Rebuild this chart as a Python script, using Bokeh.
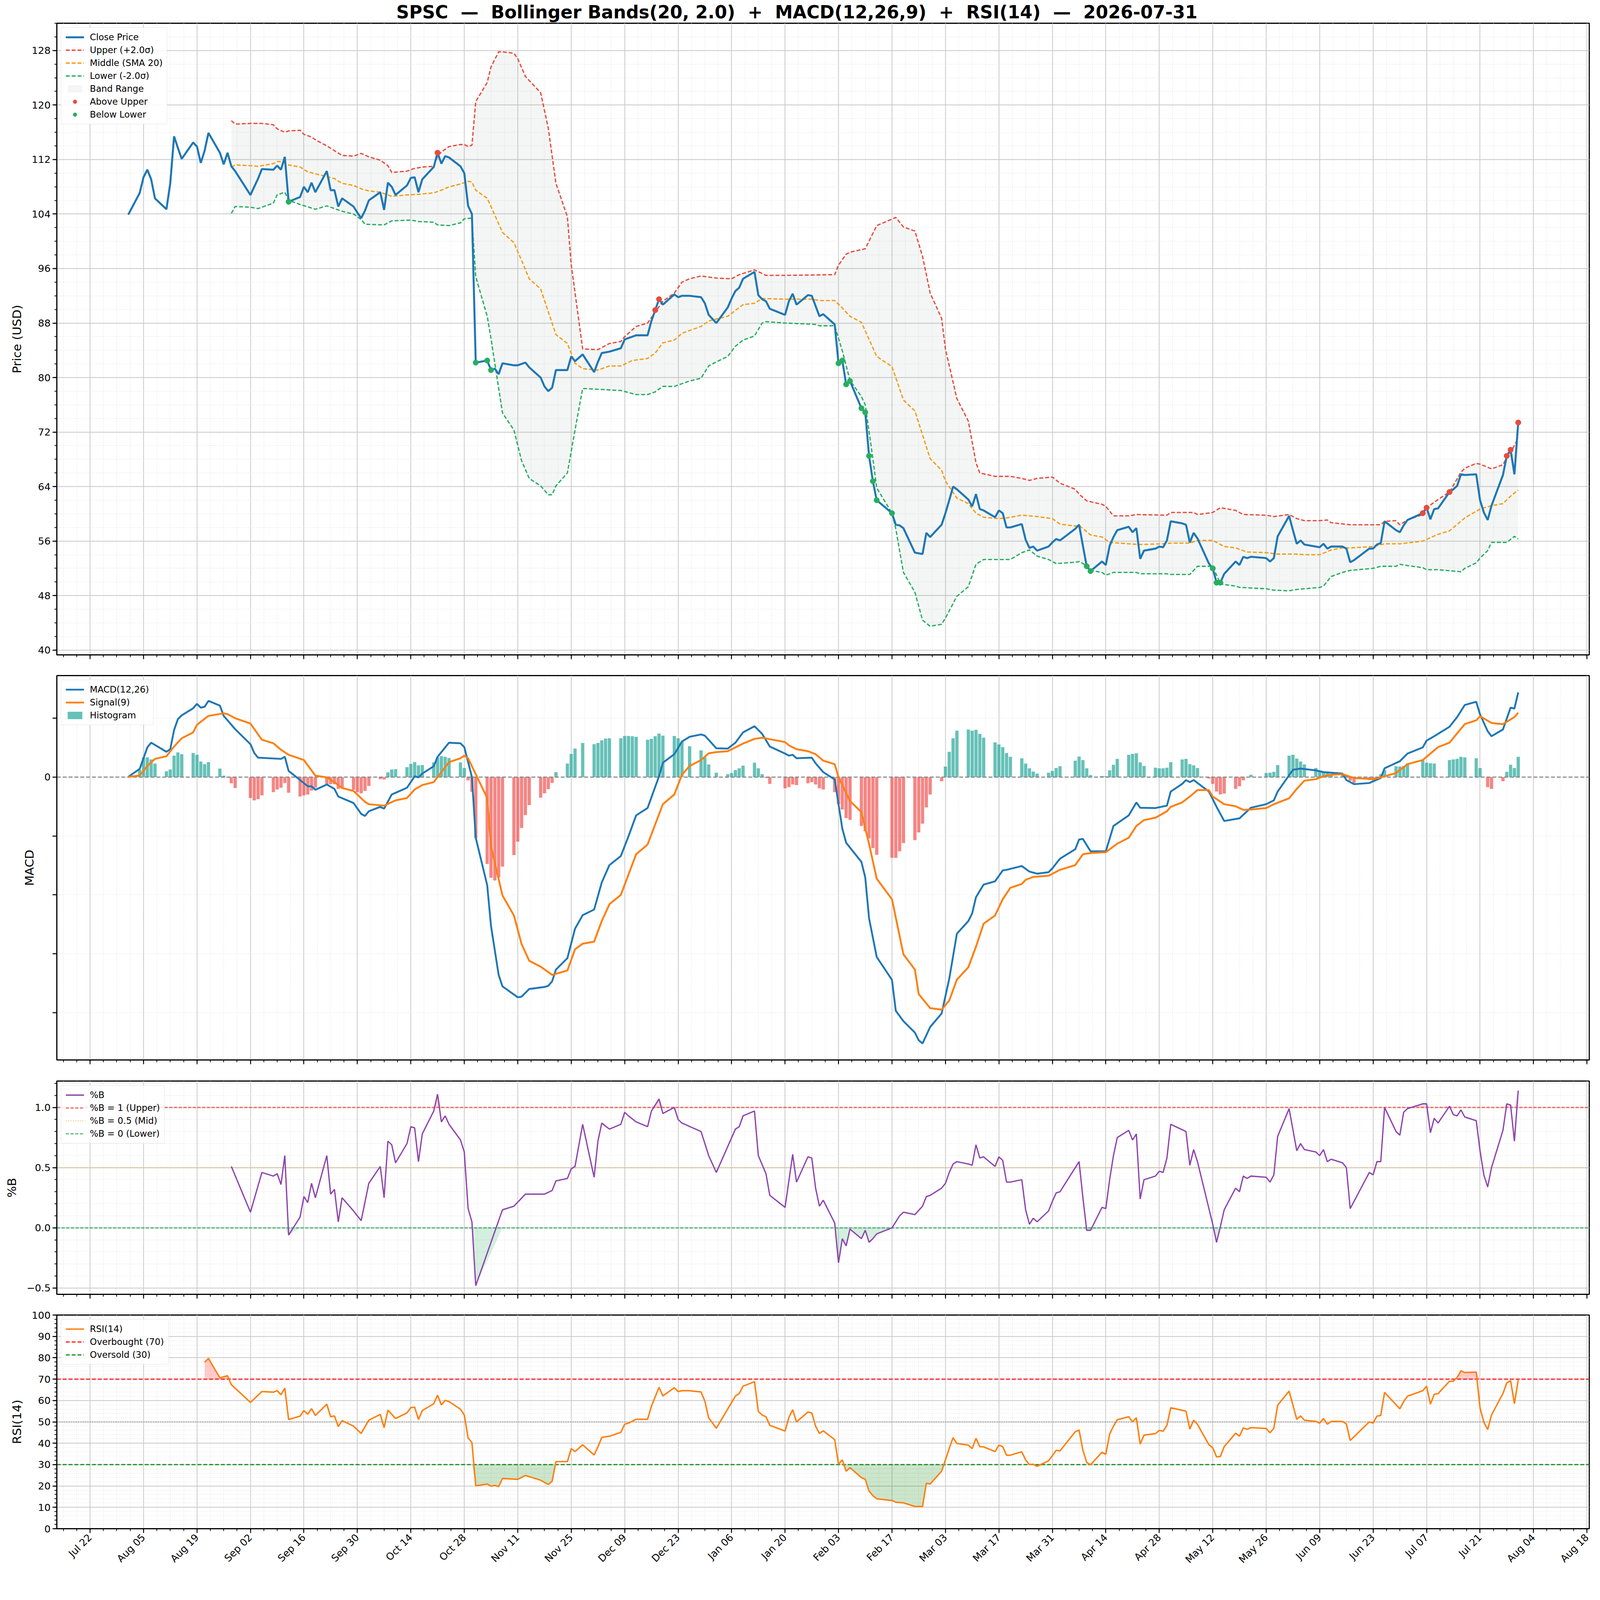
import math
from datetime import datetime, timedelta

import numpy as np
import pandas as pd
from bokeh.embed import file_html
from bokeh.layouts import column
from bokeh.models import (CustomJSTickFormatter, DatetimeTickFormatter, FixedTicker, Legend,
                          LegendItem, Range1d, SingleIntervalTicker)
from bokeh.plotting import figure
from bokeh.resources import INLINE

# ---------------- data ----------------
close_dates = ["2025-08-01", "2025-08-04", "2025-08-05", "2025-08-06", "2025-08-07", "2025-08-08",
               "2025-08-11", "2025-08-12", "2025-08-13", "2025-08-14", "2025-08-15", "2025-08-18",
               "2025-08-19", "2025-08-20", "2025-08-21", "2025-08-22", "2025-08-25", "2025-08-26",
               "2025-08-27", "2025-08-28", "2025-08-29", "2025-09-02", "2025-09-03", "2025-09-04",
               "2025-09-05", "2025-09-08", "2025-09-09", "2025-09-10", "2025-09-11", "2025-09-12",
               "2025-09-15", "2025-09-16", "2025-09-17", "2025-09-18", "2025-09-19", "2025-09-22",
               "2025-09-23", "2025-09-24", "2025-09-25", "2025-09-26", "2025-09-29", "2025-09-30",
               "2025-10-01", "2025-10-02", "2025-10-03", "2025-10-06", "2025-10-07", "2025-10-08",
               "2025-10-09", "2025-10-10", "2025-10-13", "2025-10-14", "2025-10-15", "2025-10-16",
               "2025-10-17", "2025-10-20", "2025-10-21", "2025-10-22", "2025-10-23", "2025-10-24",
               "2025-10-27", "2025-10-28", "2025-10-29", "2025-10-30", "2025-10-31", "2025-11-03",
               "2025-11-04", "2025-11-05", "2025-11-06", "2025-11-07", "2025-11-10", "2025-11-11",
               "2025-11-12", "2025-11-13", "2025-11-14", "2025-11-17", "2025-11-18", "2025-11-19",
               "2025-11-20", "2025-11-21", "2025-11-24", "2025-11-25", "2025-11-26", "2025-11-28",
               "2025-12-01", "2025-12-02", "2025-12-03", "2025-12-04", "2025-12-05", "2025-12-08",
               "2025-12-09", "2025-12-10", "2025-12-11", "2025-12-12", "2025-12-15", "2025-12-16",
               "2025-12-17", "2025-12-18", "2025-12-19", "2025-12-22", "2025-12-23", "2025-12-24",
               "2025-12-26", "2025-12-29", "2025-12-30", "2025-12-31", "2026-01-02", "2026-01-05",
               "2026-01-06", "2026-01-07", "2026-01-08", "2026-01-09", "2026-01-12", "2026-01-13",
               "2026-01-14", "2026-01-15", "2026-01-16", "2026-01-20", "2026-01-21", "2026-01-22",
               "2026-01-23", "2026-01-26", "2026-01-27", "2026-01-28", "2026-01-29", "2026-01-30",
               "2026-02-02", "2026-02-03", "2026-02-04", "2026-02-05", "2026-02-06", "2026-02-09",
               "2026-02-10", "2026-02-11", "2026-02-12", "2026-02-13", "2026-02-17", "2026-02-18",
               "2026-02-19", "2026-02-20", "2026-02-23", "2026-02-24", "2026-02-25", "2026-02-26",
               "2026-02-27", "2026-03-02", "2026-03-03", "2026-03-04", "2026-03-05", "2026-03-06",
               "2026-03-09", "2026-03-10", "2026-03-11", "2026-03-12", "2026-03-13", "2026-03-16",
               "2026-03-17", "2026-03-18", "2026-03-19", "2026-03-20", "2026-03-23", "2026-03-24",
               "2026-03-25", "2026-03-26", "2026-03-27", "2026-03-30", "2026-03-31", "2026-04-01",
               "2026-04-02", "2026-04-06", "2026-04-07", "2026-04-08", "2026-04-09", "2026-04-10",
               "2026-04-13", "2026-04-14", "2026-04-15", "2026-04-16", "2026-04-17", "2026-04-20",
               "2026-04-21", "2026-04-22", "2026-04-23", "2026-04-24", "2026-04-27", "2026-04-28",
               "2026-04-29", "2026-04-30", "2026-05-01", "2026-05-04", "2026-05-05", "2026-05-06",
               "2026-05-07", "2026-05-08", "2026-05-11", "2026-05-12", "2026-05-13", "2026-05-14",
               "2026-05-15", "2026-05-18", "2026-05-19", "2026-05-20", "2026-05-21", "2026-05-22",
               "2026-05-26", "2026-05-27", "2026-05-28", "2026-05-29", "2026-06-01", "2026-06-02",
               "2026-06-03", "2026-06-04", "2026-06-05", "2026-06-08", "2026-06-09", "2026-06-10",
               "2026-06-11", "2026-06-12", "2026-06-15", "2026-06-16", "2026-06-17", "2026-06-18",
               "2026-06-22", "2026-06-23", "2026-06-24", "2026-06-25", "2026-06-26", "2026-06-29",
               "2026-06-30", "2026-07-01", "2026-07-02", "2026-07-06", "2026-07-07", "2026-07-08",
               "2026-07-09", "2026-07-10", "2026-07-13", "2026-07-14", "2026-07-15", "2026-07-16",
               "2026-07-17", "2026-07-20", "2026-07-21", "2026-07-22", "2026-07-23", "2026-07-24",
               "2026-07-27", "2026-07-28", "2026-07-29", "2026-07-30", "2026-07-31"]
close = [103.9, 107.1, 109.4, 110.5, 109.1, 106.3, 104.7, 108.5, 115.4, 113.7, 112.1, 114.5,
         113.9, 111.5, 113.3, 115.9, 113.0, 111.3, 113.0, 111.0, 110.3, 106.8, 108.0, 109.2,
         110.6, 110.5, 111.1, 110.5, 112.4, 105.8, 106.5, 108.0, 107.2, 108.6, 107.2, 110.3,
         107.5, 107.5, 105.1, 106.3, 105.1, 104.2, 103.4, 104.5, 106.0, 107.2, 104.6, 108.6,
         108.0, 106.8, 108.2, 109.3, 109.4, 107.2, 109.1, 110.9, 113.0, 111.4, 112.5, 112.3,
         111.0, 110.0, 105.2, 104.0, 82.2, 82.5, 81.1, 81.3, 80.5, 82.1, 81.8, 81.8,
         82.0, 82.2, 81.5, 80.0, 78.7, 78.0, 78.5, 81.1, 81.1, 83.1, 82.4, 83.4,
         80.8, 82.3, 83.6, 83.7, 83.8, 84.3, 85.6, 85.8, 86.0, 86.2, 86.2, 88.3,
         89.9, 91.5, 90.7, 92.2, 91.8, 92.0, 92.0, 91.8, 90.9, 89.2, 88.0, 90.3,
         91.6, 92.7, 93.2, 94.5, 95.5, 92.1, 91.5, 91.2, 90.1, 89.2, 91.2, 92.3,
         90.7, 92.1, 92.0, 90.5, 89.0, 89.3, 87.8, 82.1, 82.5, 79.0, 79.5, 75.5,
         74.9, 68.5, 64.8, 62.0, 60.1, 58.4, 58.3, 57.9, 54.3, 54.2, 54.1, 57.2,
         56.6, 58.4, 60.1, 62.0, 64.0, 63.6, 62.1, 61.1, 62.9, 60.7, 60.5, 59.5,
         60.5, 60.1, 58.0, 58.0, 58.5, 56.2, 55.0, 55.2, 54.6, 55.2, 55.8, 56.3,
         56.1, 57.8, 58.4, 55.3, 52.3, 51.6, 53.0, 52.5, 55.3, 56.6, 57.6, 58.1,
         57.3, 57.9, 53.4, 54.6, 54.9, 55.2, 55.1, 56.1, 58.9, 58.6, 58.4, 55.8,
         57.2, 56.4, 52.7, 52.0, 49.9, 49.9, 51.2, 53.0, 52.5, 53.7, 53.5, 53.7,
         53.5, 53.0, 53.5, 56.7, 59.7, 57.6, 55.6, 56.1, 55.5, 55.2, 55.1, 55.6,
         54.9, 55.2, 55.2, 54.9, 52.9, 53.2, 54.9, 54.9, 55.5, 55.7, 58.9, 57.6,
         57.3, 58.3, 59.1, 60.1, 60.9, 59.2, 60.7, 60.8, 63.2, 63.6, 64.1, 65.8,
         65.7, 65.8, 62.0, 60.2, 59.1, 61.2, 65.7, 68.5, 69.4, 65.8, 73.4]

upper_dates = ["2025-08-28", "2025-08-29", "2025-09-02", "2025-09-05", "2025-09-08", "2025-09-09",
               "2025-09-11", "2025-09-12", "2025-09-15", "2025-09-16", "2025-09-18", "2025-09-19",
               "2025-09-22", "2025-09-24", "2025-09-26", "2025-09-29", "2025-10-01", "2025-10-03",
               "2025-10-06", "2025-10-08", "2025-10-09", "2025-10-13", "2025-10-15", "2025-10-17",
               "2025-10-20", "2025-10-21", "2025-10-22", "2025-10-24", "2025-10-27", "2025-10-28",
               "2025-10-29", "2025-10-30", "2025-10-31", "2025-11-03", "2025-11-04", "2025-11-06",
               "2025-11-07", "2025-11-10", "2025-11-11", "2025-11-13", "2025-11-14", "2025-11-17",
               "2025-11-19", "2025-11-21", "2025-11-24", "2025-11-25", "2025-11-28", "2025-12-02",
               "2025-12-05", "2025-12-08", "2025-12-09", "2025-12-12", "2025-12-15", "2025-12-17",
               "2025-12-19", "2025-12-22", "2025-12-24", "2025-12-26", "2025-12-29", "2026-01-02",
               "2026-01-06", "2026-01-08", "2026-01-12", "2026-01-15", "2026-01-20", "2026-02-02",
               "2026-02-03", "2026-02-05", "2026-02-06", "2026-02-10", "2026-02-13", "2026-02-18",
               "2026-02-20", "2026-02-23", "2026-02-25", "2026-02-27", "2026-03-02", "2026-03-03",
               "2026-03-06", "2026-03-09", "2026-03-11", "2026-03-12", "2026-03-16", "2026-03-20",
               "2026-03-23", "2026-03-25", "2026-03-27", "2026-03-31", "2026-04-02", "2026-04-06",
               "2026-04-07", "2026-04-09", "2026-04-13", "2026-04-14", "2026-04-16", "2026-04-20",
               "2026-04-22", "2026-04-30", "2026-05-01", "2026-05-07", "2026-05-08", "2026-05-12",
               "2026-05-14", "2026-05-18", "2026-05-20", "2026-05-26", "2026-05-28", "2026-06-01",
               "2026-06-03", "2026-06-05", "2026-06-09", "2026-06-11", "2026-06-12", "2026-06-17",
               "2026-06-25", "2026-06-26", "2026-06-29", "2026-06-30", "2026-07-02", "2026-07-06",
               "2026-07-07", "2026-07-10", "2026-07-13", "2026-07-16", "2026-07-17", "2026-07-20",
               "2026-07-21", "2026-07-24", "2026-07-27", "2026-07-28", "2026-07-29", "2026-07-31"]
upper = [117.7, 117.2, 117.3, 117.3, 117.1, 116.5, 116.0, 116.2, 116.3, 115.7, 115.3, 114.9,
         114.0, 113.3, 112.6, 112.5, 112.9, 112.4, 111.9, 111.1, 110.1, 110.3, 110.7, 110.9,
         111.0, 112.5, 113.1, 113.9, 114.2, 114.2, 113.9, 114.1, 120.5, 123.3, 125.6, 127.8,
         127.8, 127.6, 126.8, 124.2, 123.6, 121.8, 116.6, 108.5, 103.6, 96.6, 84.2, 84.1,
         85.0, 85.3, 86.0, 87.5, 88.0, 89.6, 91.2, 92.4, 94.0, 94.5, 94.9, 94.6,
         94.5, 95.1, 95.8, 95.0, 95.0, 95.1, 96.5, 98.1, 98.4, 98.9, 102.3, 103.5,
         102.1, 101.5, 97.8, 92.4, 88.7, 84.2, 76.9, 73.6, 67.5, 66.0, 65.5, 65.5,
         65.2, 64.9, 65.2, 65.4, 64.5, 63.6, 62.9, 61.9, 61.4, 61.1, 59.7, 59.7,
         59.9, 59.8, 60.2, 60.2, 59.9, 60.2, 60.9, 60.5, 59.9, 59.8, 59.6, 59.9,
         59.3, 59.0, 59.0, 59.1, 58.7, 58.4, 58.4, 58.9, 59.0, 58.4, 59.1, 59.9,
         60.9, 62.1, 63.2, 66.1, 66.7, 67.4, 67.3, 66.6, 67.2, 68.3, 69.0, 71.1]

middle_dates = ["2025-08-28", "2025-08-29", "2025-09-02", "2025-09-04", "2025-09-08", "2025-09-09",
                "2025-09-10", "2025-09-11", "2025-09-12", "2025-09-15", "2025-09-17", "2025-09-19",
                "2025-09-22", "2025-09-24", "2025-09-26", "2025-09-29", "2025-10-01", "2025-10-03",
                "2025-10-06", "2025-10-09", "2025-10-13", "2025-10-16", "2025-10-20", "2025-10-22",
                "2025-10-24", "2025-10-27", "2025-10-29", "2025-10-30", "2025-10-31", "2025-11-03",
                "2025-11-04", "2025-11-07", "2025-11-10", "2025-11-12", "2025-11-14", "2025-11-17",
                "2025-11-21", "2025-11-24", "2025-11-26", "2025-11-28", "2025-12-02", "2025-12-05",
                "2025-12-08", "2025-12-11", "2025-12-15", "2025-12-17", "2025-12-19", "2025-12-22",
                "2025-12-24", "2025-12-26", "2025-12-29", "2025-12-31", "2026-01-02", "2026-01-05",
                "2026-01-09", "2026-01-12", "2026-01-14", "2026-01-20", "2026-01-27", "2026-01-29",
                "2026-02-02", "2026-02-04", "2026-02-06", "2026-02-09", "2026-02-13", "2026-02-17",
                "2026-02-20", "2026-02-23", "2026-02-27", "2026-03-02", "2026-03-03", "2026-03-06",
                "2026-03-09", "2026-03-11", "2026-03-13", "2026-03-17", "2026-03-19", "2026-03-23",
                "2026-03-27", "2026-03-31", "2026-04-02", "2026-04-06", "2026-04-07", "2026-04-10",
                "2026-04-13", "2026-04-15", "2026-04-20", "2026-04-23", "2026-04-29", "2026-05-01",
                "2026-05-06", "2026-05-08", "2026-05-12", "2026-05-15", "2026-05-18", "2026-05-21",
                "2026-05-26", "2026-05-29", "2026-06-03", "2026-06-05", "2026-06-09", "2026-06-12",
                "2026-06-15", "2026-06-17", "2026-06-23", "2026-06-26", "2026-06-30", "2026-07-06",
                "2026-07-10", "2026-07-13", "2026-07-17", "2026-07-21", "2026-07-24", "2026-07-27",
                "2026-07-29", "2026-07-31"]
middle = [110.9, 111.2, 111.1, 111.0, 111.4, 111.7, 111.7, 111.4, 111.2, 110.9, 110.2, 109.9,
          109.5, 109.2, 108.5, 108.2, 107.7, 107.4, 107.2, 106.6, 106.8, 106.9, 107.1, 107.5,
          108.0, 108.4, 108.8, 108.7, 107.5, 106.3, 105.1, 101.3, 99.8, 97.2, 94.5, 93.0,
          86.3, 85.0, 82.1, 81.3, 81.1, 81.7, 81.7, 82.5, 82.8, 83.6, 85.1, 85.5,
          86.5, 86.9, 87.5, 88.3, 88.6, 89.0, 90.7, 90.9, 91.6, 91.5, 91.5, 91.3,
          91.3, 90.2, 89.0, 88.1, 83.1, 81.6, 76.7, 75.1, 68.1, 66.4, 64.8, 62.3,
          61.5, 60.1, 59.5, 59.3, 59.4, 59.8, 59.6, 59.3, 58.5, 58.2, 58.3, 56.9,
          56.6, 55.8, 55.6, 55.5, 55.6, 55.7, 55.7, 56.1, 56.1, 55.2, 55.0, 54.4,
          54.3, 54.1, 54.1, 54.0, 54.0, 54.7, 55.0, 55.0, 55.2, 55.6, 55.6, 56.0,
          57.0, 57.5, 59.4, 60.7, 61.2, 61.5, 62.6, 63.5]

lower_dates = ["2025-08-28", "2025-08-29", "2025-09-02", "2025-09-04", "2025-09-08", "2025-09-09",
               "2025-09-11", "2025-09-12", "2025-09-15", "2025-09-19", "2025-09-22", "2025-09-24",
               "2025-09-26", "2025-09-29", "2025-10-01", "2025-10-02", "2025-10-07", "2025-10-09",
               "2025-10-14", "2025-10-16", "2025-10-20", "2025-10-21", "2025-10-24", "2025-10-27",
               "2025-10-28", "2025-10-30", "2025-10-31", "2025-11-03", "2025-11-04", "2025-11-07",
               "2025-11-10", "2025-11-12", "2025-11-14", "2025-11-17", "2025-11-19", "2025-11-20",
               "2025-11-21", "2025-11-24", "2025-11-26", "2025-11-28", "2025-12-08", "2025-12-12",
               "2025-12-15", "2025-12-17", "2025-12-19", "2025-12-22", "2025-12-24", "2025-12-26",
               "2025-12-29", "2025-12-31", "2026-01-02", "2026-01-05", "2026-01-07", "2026-01-09",
               "2026-01-12", "2026-01-14", "2026-01-15", "2026-01-20", "2026-01-28", "2026-01-29",
               "2026-02-02", "2026-02-04", "2026-02-06", "2026-02-09", "2026-02-10", "2026-02-12",
               "2026-02-13", "2026-02-17", "2026-02-18", "2026-02-20", "2026-02-23", "2026-02-25",
               "2026-02-27", "2026-03-02", "2026-03-03", "2026-03-06", "2026-03-09", "2026-03-11",
               "2026-03-13", "2026-03-20", "2026-03-23", "2026-03-25", "2026-03-27", "2026-03-30",
               "2026-04-01", "2026-04-06", "2026-04-07", "2026-04-09", "2026-04-10", "2026-04-13",
               "2026-04-14", "2026-04-16", "2026-04-22", "2026-04-23", "2026-04-30", "2026-05-01",
               "2026-05-06", "2026-05-08", "2026-05-12", "2026-05-14", "2026-05-18", "2026-05-19",
               "2026-05-26", "2026-05-28", "2026-06-01", "2026-06-03", "2026-06-09", "2026-06-10",
               "2026-06-12", "2026-06-15", "2026-06-17", "2026-06-23", "2026-06-25", "2026-06-29",
               "2026-06-30", "2026-07-02", "2026-07-06", "2026-07-07", "2026-07-10", "2026-07-16",
               "2026-07-17", "2026-07-20", "2026-07-21", "2026-07-23", "2026-07-24", "2026-07-28",
               "2026-07-30", "2026-07-31"]
lower = [104.1, 105.1, 105.0, 104.8, 105.6, 106.8, 107.2, 106.0, 105.4, 104.7, 105.2, 104.8,
         104.4, 104.0, 103.2, 102.5, 102.4, 103.0, 103.1, 102.9, 102.8, 102.4, 102.3, 102.7,
         103.3, 103.4, 94.8, 89.0, 85.7, 74.8, 72.3, 67.8, 65.2, 64.1, 62.8, 62.8,
         64.1, 66.0, 72.3, 78.4, 78.1, 77.5, 77.5, 77.9, 78.7, 78.7, 79.1, 79.5,
         79.9, 81.7, 82.3, 83.1, 84.6, 85.5, 86.1, 88.0, 88.2, 88.0, 87.8, 87.6,
         87.6, 83.9, 79.6, 77.2, 76.0, 68.1, 63.8, 60.1, 57.8, 51.4, 48.5, 44.4,
         43.5, 43.8, 44.7, 47.9, 49.3, 52.6, 53.3, 53.3, 54.3, 54.7, 53.8, 53.3,
         52.7, 52.9, 53.0, 52.4, 51.7, 51.4, 51.0, 51.4, 51.4, 51.2, 51.2, 51.1,
         51.1, 52.3, 52.3, 49.7, 49.4, 49.2, 49.0, 48.8, 48.7, 48.9, 49.2, 49.4,
         50.8, 51.4, 51.7, 52.0, 52.3, 52.3, 52.6, 52.4, 52.1, 51.8, 51.8, 51.5,
         52.0, 52.8, 53.5, 54.6, 55.8, 55.8, 56.7, 56.3]

above_dates = ["2025-10-21", "2025-12-17", "2025-12-18", "2026-07-06", "2026-07-07", "2026-07-13",
               "2026-07-28", "2026-07-29", "2026-07-31"]
above_vals = [113.0, 89.9, 91.5, 60.1, 60.9, 63.2, 68.5, 69.4, 73.4]
below_dates = ["2025-09-12", "2025-10-31", "2025-11-03", "2025-11-04", "2026-02-03", "2026-02-04",
               "2026-02-05", "2026-02-06", "2026-02-09", "2026-02-10", "2026-02-11", "2026-02-12",
               "2026-02-13", "2026-02-17", "2026-04-09", "2026-04-10", "2026-05-12", "2026-05-13",
               "2026-05-14"]
below_vals = [105.8, 82.2, 82.5, 81.1, 82.1, 82.5, 79.0, 79.5, 75.5, 74.9, 68.5, 64.8,
              62.0, 60.1, 52.3, 51.6, 52.0, 49.9, 49.9]

macd_dates = ["2025-08-01", "2025-08-04", "2025-08-06", "2025-08-07", "2025-08-11", "2025-08-12",
              "2025-08-13", "2025-08-14", "2025-08-15", "2025-08-18", "2025-08-19", "2025-08-20",
              "2025-08-21", "2025-08-22", "2025-08-25", "2025-08-26", "2025-08-29", "2025-09-02",
              "2025-09-03", "2025-09-04", "2025-09-10", "2025-09-11", "2025-09-12", "2025-09-15",
              "2025-09-17", "2025-09-18", "2025-09-19", "2025-09-22", "2025-09-24", "2025-09-25",
              "2025-09-29", "2025-10-01", "2025-10-02", "2025-10-03", "2025-10-06", "2025-10-07",
              "2025-10-09", "2025-10-13", "2025-10-15", "2025-10-16", "2025-10-17", "2025-10-20",
              "2025-10-21", "2025-10-24", "2025-10-27", "2025-10-28", "2025-10-30", "2025-10-31",
              "2025-11-03", "2025-11-04", "2025-11-06", "2025-11-07", "2025-11-11", "2025-11-12",
              "2025-11-14", "2025-11-18", "2025-11-19", "2025-11-20", "2025-11-21", "2025-11-24",
              "2025-11-26", "2025-11-28", "2025-12-01", "2025-12-03", "2025-12-05", "2025-12-08",
              "2025-12-10", "2025-12-12", "2025-12-15", "2025-12-18", "2025-12-19", "2025-12-22",
              "2025-12-24", "2025-12-26", "2025-12-29", "2025-12-30", "2026-01-02", "2026-01-05",
              "2026-01-07", "2026-01-09", "2026-01-12", "2026-01-14", "2026-01-16", "2026-01-20",
              "2026-01-21", "2026-01-22", "2026-01-23", "2026-01-27", "2026-01-28", "2026-01-30",
              "2026-02-02", "2026-02-03", "2026-02-04", "2026-02-05", "2026-02-09", "2026-02-10",
              "2026-02-11", "2026-02-13", "2026-02-17", "2026-02-18", "2026-02-20", "2026-02-23",
              "2026-02-24", "2026-02-25", "2026-02-27", "2026-03-02", "2026-03-04", "2026-03-06",
              "2026-03-09", "2026-03-10", "2026-03-11", "2026-03-13", "2026-03-16", "2026-03-18",
              "2026-03-19", "2026-03-23", "2026-03-25", "2026-03-27", "2026-03-30", "2026-03-31",
              "2026-04-02", "2026-04-06", "2026-04-07", "2026-04-08", "2026-04-10", "2026-04-14",
              "2026-04-16", "2026-04-20", "2026-04-22", "2026-04-23", "2026-04-27", "2026-04-30",
              "2026-05-01", "2026-05-04", "2026-05-05", "2026-05-06", "2026-05-07", "2026-05-11",
              "2026-05-13", "2026-05-15", "2026-05-19", "2026-05-22", "2026-05-26", "2026-05-28",
              "2026-05-29", "2026-06-02", "2026-06-03", "2026-06-04", "2026-06-08", "2026-06-10",
              "2026-06-12", "2026-06-15", "2026-06-16", "2026-06-18", "2026-06-22", "2026-06-25",
              "2026-06-26", "2026-06-30", "2026-07-02", "2026-07-06", "2026-07-07", "2026-07-09",
              "2026-07-13", "2026-07-15", "2026-07-17", "2026-07-20", "2026-07-21", "2026-07-23",
              "2026-07-24", "2026-07-27", "2026-07-29", "2026-07-30", "2026-07-31"]
macd = [0.01, 0.28, 1.01, 1.17, 0.86, 0.95, 1.60, 1.97, 2.10, 2.34, 2.49, 2.36,
        2.39, 2.59, 2.43, 2.08, 1.63, 1.12, 0.82, 0.66, 0.62, 0.69, 0.21, -0.10,
        -0.31, -0.31, -0.43, -0.25, -0.40, -0.66, -0.88, -1.25, -1.32, -1.16, -1.01, -1.07,
        -0.59, -0.36, 0.03, -0.01, 0.12, 0.37, 0.69, 1.17, 1.15, 1.02, 0.0, -2.06,
        -3.67, -5.06, -6.72, -7.11, -7.48, -7.46, -7.20, -7.13, -7.09, -6.94, -6.54, -6.15,
        -5.15, -4.69, -4.50, -3.58, -2.99, -2.68, -2.01, -1.30, -1.05, 0.03, 0.49, 0.78,
        1.21, 1.37, 1.45, 1.41, 0.98, 0.97, 1.17, 1.52, 1.73, 1.47, 1.04, 0.80,
        0.73, 0.76, 0.64, 0.66, 0.47, 0.17, -0.08, -0.92, -1.75, -2.23, -2.88, -3.41,
        -4.80, -6.11, -6.89, -7.94, -8.29, -8.68, -8.94, -9.05, -8.49, -8.03, -6.85, -5.32,
        -4.89, -4.63, -4.08, -3.65, -3.54, -3.17, -3.15, -3.02, -3.21, -3.28, -3.23, -3.10,
        -2.77, -2.45, -2.12, -2.10, -2.52, -2.52, -1.66, -1.30, -0.86, -1.04, -1.05, -0.97,
        -0.49, -0.23, -0.10, -0.17, -0.10, -0.49, -1.01, -1.49, -1.40, -1.04, -0.92, -0.79,
        -0.49, 0.25, 0.27, 0.29, 0.23, 0.17, 0.15, 0.12, -0.10, -0.24, -0.20, -0.03,
        0.30, 0.54, 0.80, 1.01, 1.24, 1.39, 1.71, 2.04, 2.45, 2.56, 2.13, 1.56,
        1.39, 1.62, 2.36, 2.33, 2.88]

signal_dates = ["2025-08-01", "2025-08-04", "2025-08-06", "2025-08-08", "2025-08-11", "2025-08-13",
                "2025-08-15", "2025-08-18", "2025-08-19", "2025-08-22", "2025-08-26", "2025-08-27",
                "2025-08-29", "2025-09-02", "2025-09-05", "2025-09-08", "2025-09-10", "2025-09-12",
                "2025-09-16", "2025-09-19", "2025-09-22", "2025-09-24", "2025-09-26", "2025-09-29",
                "2025-10-02", "2025-10-03", "2025-10-07", "2025-10-10", "2025-10-13", "2025-10-15",
                "2025-10-17", "2025-10-20", "2025-10-24", "2025-10-27", "2025-10-28", "2025-10-29",
                "2025-11-03", "2025-11-04", "2025-11-07", "2025-11-10", "2025-11-12", "2025-11-14",
                "2025-11-17", "2025-11-20", "2025-11-24", "2025-11-26", "2025-11-28", "2025-12-01",
                "2025-12-03", "2025-12-05", "2025-12-08", "2025-12-12", "2025-12-15", "2025-12-19",
                "2025-12-22", "2025-12-24", "2025-12-26", "2025-12-29", "2025-12-31", "2026-01-02",
                "2026-01-05", "2026-01-09", "2026-01-12", "2026-01-14", "2026-01-20", "2026-01-21",
                "2026-01-23", "2026-01-26", "2026-01-28", "2026-01-30", "2026-02-02", "2026-02-03",
                "2026-02-06", "2026-02-09", "2026-02-11", "2026-02-13", "2026-02-17", "2026-02-20",
                "2026-02-23", "2026-02-24", "2026-02-27", "2026-03-02", "2026-03-04", "2026-03-06",
                "2026-03-09", "2026-03-11", "2026-03-13", "2026-03-16", "2026-03-18", "2026-03-20",
                "2026-03-23", "2026-03-24", "2026-03-26", "2026-03-30", "2026-04-02", "2026-04-06",
                "2026-04-08", "2026-04-10", "2026-04-14", "2026-04-17", "2026-04-20", "2026-04-22",
                "2026-04-24", "2026-04-27", "2026-04-30", "2026-05-01", "2026-05-04", "2026-05-06",
                "2026-05-08", "2026-05-11", "2026-05-12", "2026-05-15", "2026-05-18", "2026-05-20",
                "2026-05-22", "2026-05-26", "2026-05-28", "2026-06-01", "2026-06-03", "2026-06-05",
                "2026-06-08", "2026-06-10", "2026-06-12", "2026-06-15", "2026-06-18", "2026-06-23",
                "2026-06-25", "2026-06-29", "2026-07-02", "2026-07-06", "2026-07-10", "2026-07-13",
                "2026-07-17", "2026-07-20", "2026-07-21", "2026-07-24", "2026-07-27", "2026-07-30",
                "2026-07-31"]
signal = [0.01, 0.05, 0.38, 0.62, 0.71, 1.04, 1.32, 1.52, 1.78, 2.08, 2.17, 2.14,
          2.00, 1.82, 1.27, 1.15, 0.93, 0.76, 0.58, 0.05, -0.01, -0.17, -0.37, -0.47,
          -0.84, -0.92, -0.97, -0.79, -0.71, -0.42, -0.27, -0.17, 0.51, 0.64, 0.73, 0.64,
          -0.71, -2.36, -4.02, -4.70, -5.67, -6.24, -6.44, -6.72, -6.57, -5.85, -5.66, -5.59,
          -4.89, -4.32, -4.00, -2.62, -2.29, -0.92, -0.59, 0.08, 0.38, 0.58, 0.81, 0.85,
          0.88, 1.14, 1.30, 1.34, 1.19, 1.08, 0.95, 0.88, 0.78, 0.56, 0.44, 0.0,
          -0.81, -1.19, -2.27, -3.45, -4.15, -6.02, -6.54, -7.37, -7.85, -7.90, -7.59, -6.88,
          -6.46, -5.76, -4.98, -4.70, -4.15, -3.76, -3.63, -3.49, -3.39, -3.35, -3.15, -2.99,
          -2.62, -2.58, -2.55, -2.26, -2.06, -1.66, -1.46, -1.38, -1.16, -1.01, -0.86, -0.66,
          -0.44, -0.44, -0.66, -0.92, -0.99, -1.11, -1.10, -1.05, -0.92, -0.72, -0.40, -0.12,
          -0.07, 0.03, 0.08, 0.10, -0.03, -0.07, -0.01, 0.14, 0.44, 0.58, 1.02, 1.17,
          1.80, 1.93, 2.07, 1.84, 1.80, 2.04, 2.19]

# histogram: one row per trading week (Mon..Fri), None where no bar is drawn
hist_weeks = ["2025-08-04", "2025-08-11", "2025-08-18", "2025-08-25", "2025-09-01", "2025-09-08",
              "2025-09-15", "2025-09-22", "2025-09-29", "2025-10-06", "2025-10-13", "2025-10-20",
              "2025-10-27", "2025-11-03", "2025-11-10", "2025-11-17", "2025-11-24", "2025-12-01",
              "2025-12-08", "2025-12-15", "2025-12-22", "2025-12-29", "2026-01-05", "2026-01-12",
              "2026-01-19", "2026-01-26", "2026-02-02", "2026-02-09", "2026-02-16", "2026-02-23",
              "2026-03-02", "2026-03-09", "2026-03-16", "2026-03-23", "2026-03-30", "2026-04-06",
              "2026-04-13", "2026-04-20", "2026-04-27", "2026-05-04", "2026-05-11", "2026-05-18",
              "2026-05-25", "2026-06-01", "2026-06-08", "2026-06-15", "2026-06-22", "2026-06-29",
              "2026-07-06", "2026-07-13", "2026-07-20", "2026-07-27"]
hist_vals = [
    [0.25, 0.67, 0.67, 0.60, 0.46], [0.20, 0.26, 0.73, 0.84, 0.78], [0.82, 0.76, 0.53, 0.44, 0.51],
    [0.29, 0.05, -0.02, -0.21, -0.37], [None, -0.71, -0.79, -0.75, -0.62],
    [-0.51, -0.42, -0.36, -0.20, -0.53], [-0.66, -0.62, -0.59, -0.46, -0.36],
    [-0.24, -0.24, -0.24, -0.40, -0.36], [-0.43, -0.51, -0.55, -0.47, -0.30],
    [-0.07, -0.08, 0.16, 0.26, 0.27], [0.34, 0.45, 0.51, 0.40, 0.41], [0.50, 0.67, 0.71, 0.69, 0.65],
    [0.50, 0.31, -0.11, -0.50, -2.07], [-2.95, -3.42, -3.51, -3.41, -3.04],
    [-2.65, -2.19, -1.73, -1.29, -0.95], [-0.70, -0.55, -0.41, -0.20, 0.17],
    [0.46, 0.79, 0.97, None, 1.16], [1.12, 1.16, 1.25, 1.31, 1.32], [1.32, 1.40, 1.40, 1.39, 1.37],
    [1.27, 1.30, 1.39, 1.48, 1.41], [1.40, 1.32, 1.20, None, 1.05], [0.91, 0.67, 0.43, None, 0.15],
    [0.10, 0.14, 0.24, 0.30, 0.39], [0.49, 0.30, 0.10, -0.03, -0.23],
    [None, -0.38, -0.34, -0.25, -0.27], [-0.21, -0.17, -0.25, -0.38, -0.42],
    [-0.51, -0.92, -1.10, -1.39, -1.45], [-1.66, -1.84, -2.08, -2.41, -2.64],
    [None, -2.74, -2.74, -2.52, -2.24], [-2.14, -1.88, -1.58, -1.03, -0.59],
    [-0.14, 0.36, 0.86, 1.32, 1.58], [1.62, 1.58, 1.61, 1.47, 1.34], [1.18, 1.11, 1.02, 0.82, 0.69],
    [0.64, 0.46, 0.30, 0.19, 0.12], [0.15, 0.21, 0.31, 0.37, None], [0.56, 0.70, 0.58, 0.30, 0.07],
    [0.04, 0.03, 0.23, 0.42, 0.62], [0.76, 0.79, 0.81, 0.50, 0.38], [0.32, 0.30, 0.30, 0.32, 0.51],
    [0.60, 0.62, 0.44, 0.40, 0.31], [-0.05, -0.23, -0.49, -0.59, -0.56],
    [-0.40, -0.31, -0.11, 0.0, 0.08], [None, 0.14, 0.15, 0.18, 0.41], [0.73, 0.76, 0.63, 0.53, 0.43],
    [0.31, 0.21, 0.18, 0.14, 0.11], [0.08, 0.05, -0.12, -0.20, None],
    [-0.10, -0.11, -0.05, 0.10, 0.24], [0.37, 0.36, 0.38, 0.47, None], [0.58, 0.49, 0.47, 0.46, None],
    [0.58, 0.60, 0.62, 0.69, 0.67], [0.64, 0.31, 0.0, -0.34, -0.40], [-0.14, 0.18, 0.42, 0.31, 0.69]]

pctb_dates = ["2025-08-28", "2025-09-02", "2025-09-05", "2025-09-08", "2025-09-09", "2025-09-10",
              "2025-09-11", "2025-09-12", "2025-09-15", "2025-09-16", "2025-09-17", "2025-09-18",
              "2025-09-19", "2025-09-22", "2025-09-23", "2025-09-24", "2025-09-25", "2025-09-26",
              "2025-09-29", "2025-10-01", "2025-10-03", "2025-10-06", "2025-10-07", "2025-10-08",
              "2025-10-09", "2025-10-10", "2025-10-13", "2025-10-14", "2025-10-15", "2025-10-16",
              "2025-10-17", "2025-10-20", "2025-10-21", "2025-10-22", "2025-10-23", "2025-10-24",
              "2025-10-27", "2025-10-28", "2025-10-29", "2025-10-30", "2025-10-31", "2025-11-07",
              "2025-11-10", "2025-11-13", "2025-11-14", "2025-11-18", "2025-11-20", "2025-11-21",
              "2025-11-24", "2025-11-25", "2025-11-26", "2025-11-28", "2025-12-01", "2025-12-02",
              "2025-12-03", "2025-12-05", "2025-12-08", "2025-12-09", "2025-12-10", "2025-12-12",
              "2025-12-15", "2025-12-16", "2025-12-17", "2025-12-18", "2025-12-19", "2025-12-22",
              "2025-12-23", "2025-12-24", "2025-12-29", "2025-12-31", "2026-01-02", "2026-01-07",
              "2026-01-08", "2026-01-09", "2026-01-12", "2026-01-13", "2026-01-15", "2026-01-16",
              "2026-01-20", "2026-01-22", "2026-01-23", "2026-01-26", "2026-01-27", "2026-01-28",
              "2026-01-29", "2026-01-30", "2026-02-02", "2026-02-03", "2026-02-04", "2026-02-05",
              "2026-02-06", "2026-02-09", "2026-02-10", "2026-02-11", "2026-02-12", "2026-02-13",
              "2026-02-17", "2026-02-19", "2026-02-20", "2026-02-23", "2026-02-25", "2026-02-26",
              "2026-02-27", "2026-03-02", "2026-03-03", "2026-03-04", "2026-03-05", "2026-03-06",
              "2026-03-09", "2026-03-10", "2026-03-11", "2026-03-12", "2026-03-13", "2026-03-16",
              "2026-03-17", "2026-03-18", "2026-03-19", "2026-03-20", "2026-03-23", "2026-03-24",
              "2026-03-25", "2026-03-26", "2026-03-27", "2026-03-30", "2026-03-31", "2026-04-01",
              "2026-04-02", "2026-04-07", "2026-04-08", "2026-04-09", "2026-04-10", "2026-04-13",
              "2026-04-14", "2026-04-15", "2026-04-16", "2026-04-17", "2026-04-20", "2026-04-21",
              "2026-04-22", "2026-04-23", "2026-04-24", "2026-04-27", "2026-04-28", "2026-04-29",
              "2026-04-30", "2026-05-01", "2026-05-05", "2026-05-06", "2026-05-07", "2026-05-08",
              "2026-05-12", "2026-05-13", "2026-05-14", "2026-05-15", "2026-05-18", "2026-05-19",
              "2026-05-20", "2026-05-21", "2026-05-22", "2026-05-26", "2026-05-27", "2026-05-28",
              "2026-05-29", "2026-06-01", "2026-06-03", "2026-06-04", "2026-06-05", "2026-06-08",
              "2026-06-09", "2026-06-10", "2026-06-11", "2026-06-12", "2026-06-15", "2026-06-16",
              "2026-06-17", "2026-06-22", "2026-06-23", "2026-06-24", "2026-06-25", "2026-06-26",
              "2026-06-29", "2026-06-30", "2026-07-01", "2026-07-02", "2026-07-06", "2026-07-07",
              "2026-07-08", "2026-07-09", "2026-07-10", "2026-07-13", "2026-07-14", "2026-07-15",
              "2026-07-16", "2026-07-17", "2026-07-20", "2026-07-21", "2026-07-22", "2026-07-23",
              "2026-07-24", "2026-07-27", "2026-07-28", "2026-07-29", "2026-07-30", "2026-07-31"]
pctb = [0.51, 0.13, 0.46, 0.43, 0.45, 0.36, 0.60, -0.06, 0.09, 0.26, 0.21, 0.37,
        0.25, 0.60, 0.28, 0.32, 0.05, 0.25, 0.14, 0.06, 0.37, 0.51, 0.25, 0.72,
        0.69, 0.54, 0.70, 0.84, 0.83, 0.55, 0.78, 0.97, 1.11, 0.88, 0.93, 0.86,
        0.73, 0.63, 0.16, 0.05, -0.48, 0.15, 0.18, 0.28, 0.28, 0.28, 0.31, 0.39,
        0.41, 0.49, 0.51, 0.86, 0.42, 0.72, 0.87, 0.82, 0.86, 0.96, 0.93, 0.88,
        0.84, 0.97, 1.02, 1.07, 0.95, 1.00, 0.90, 0.87, 0.80, 0.60, 0.46, 0.82,
        0.84, 0.93, 0.97, 0.60, 0.45, 0.27, 0.17, 0.61, 0.38, 0.59, 0.58, 0.33,
        0.18, 0.23, 0.04, -0.29, -0.09, -0.15, -0.01, -0.09, -0.02, -0.12, -0.09, -0.05,
        0.00, 0.10, 0.13, 0.11, 0.18, 0.26, 0.27, 0.33, 0.37, 0.46, 0.53, 0.55,
        0.53, 0.52, 0.69, 0.58, 0.59, 0.51, 0.59, 0.56, 0.38, 0.38, 0.40, 0.15,
        0.03, 0.08, 0.05, 0.14, 0.22, 0.29, 0.30, 0.55, 0.25, -0.02, -0.02, 0.17,
        0.16, 0.40, 0.60, 0.75, 0.81, 0.73, 0.78, 0.24, 0.40, 0.43, 0.47, 0.46,
        0.58, 0.86, 0.80, 0.52, 0.65, 0.55, 0.03, -0.12, 0.01, 0.15, 0.33, 0.30,
        0.43, 0.41, 0.43, 0.42, 0.38, 0.44, 0.76, 0.99, 0.64, 0.70, 0.65, 0.63,
        0.60, 0.65, 0.55, 0.57, 0.54, 0.50, 0.16, 0.46, 0.44, 0.55, 0.55, 1.00,
        0.80, 0.77, 0.96, 0.99, 1.03, 1.03, 0.79, 0.91, 0.87, 1.01, 0.94, 0.93,
        0.98, 0.92, 0.89, 0.64, 0.44, 0.34, 0.50, 0.81, 1.03, 1.02, 0.72, 1.14]

rsi_dates = ["2025-08-21", "2025-08-22", "2025-08-25", "2025-08-27", "2025-08-28", "2025-09-02",
             "2025-09-05", "2025-09-08", "2025-09-09", "2025-09-10", "2025-09-11", "2025-09-12",
             "2025-09-15", "2025-09-16", "2025-09-17", "2025-09-18", "2025-09-19", "2025-09-22",
             "2025-09-23", "2025-09-24", "2025-09-25", "2025-09-26", "2025-09-29", "2025-10-01",
             "2025-10-03", "2025-10-06", "2025-10-07", "2025-10-08", "2025-10-10", "2025-10-13",
             "2025-10-14", "2025-10-15", "2025-10-16", "2025-10-17", "2025-10-20", "2025-10-21",
             "2025-10-22", "2025-10-23", "2025-10-24", "2025-10-27", "2025-10-28", "2025-10-29",
             "2025-10-30", "2025-10-31", "2025-11-03", "2025-11-04", "2025-11-05", "2025-11-06",
             "2025-11-07", "2025-11-11", "2025-11-13", "2025-11-17", "2025-11-19", "2025-11-20",
             "2025-11-21", "2025-11-24", "2025-11-25", "2025-11-26", "2025-11-28", "2025-12-01",
             "2025-12-02", "2025-12-03", "2025-12-05", "2025-12-08", "2025-12-09", "2025-12-10",
             "2025-12-12", "2025-12-15", "2025-12-16", "2025-12-18", "2025-12-19", "2025-12-22",
             "2025-12-23", "2025-12-24", "2025-12-26", "2025-12-29", "2025-12-30", "2025-12-31",
             "2026-01-02", "2026-01-07", "2026-01-08", "2026-01-09", "2026-01-12", "2026-01-13",
             "2026-01-14", "2026-01-15", "2026-01-16", "2026-01-20", "2026-01-21", "2026-01-22",
             "2026-01-23", "2026-01-26", "2026-01-27", "2026-01-28", "2026-01-29", "2026-01-30",
             "2026-02-02", "2026-02-03", "2026-02-04", "2026-02-05", "2026-02-06", "2026-02-09",
             "2026-02-10", "2026-02-11", "2026-02-12", "2026-02-13", "2026-02-17", "2026-02-18",
             "2026-02-20", "2026-02-23", "2026-02-25", "2026-02-26", "2026-02-27", "2026-03-02",
             "2026-03-03", "2026-03-04", "2026-03-05", "2026-03-06", "2026-03-09", "2026-03-10",
             "2026-03-11", "2026-03-12", "2026-03-13", "2026-03-16", "2026-03-17", "2026-03-18",
             "2026-03-19", "2026-03-20", "2026-03-23", "2026-03-24", "2026-03-25", "2026-03-26",
             "2026-03-27", "2026-03-30", "2026-03-31", "2026-04-01", "2026-04-02", "2026-04-06",
             "2026-04-07", "2026-04-08", "2026-04-09", "2026-04-10", "2026-04-13", "2026-04-14",
             "2026-04-15", "2026-04-16", "2026-04-17", "2026-04-20", "2026-04-21", "2026-04-22",
             "2026-04-23", "2026-04-24", "2026-04-27", "2026-04-28", "2026-04-29", "2026-04-30",
             "2026-05-01", "2026-05-05", "2026-05-06", "2026-05-07", "2026-05-08", "2026-05-11",
             "2026-05-12", "2026-05-13", "2026-05-14", "2026-05-15", "2026-05-18", "2026-05-19",
             "2026-05-20", "2026-05-21", "2026-05-22", "2026-05-26", "2026-05-27", "2026-05-28",
             "2026-05-29", "2026-06-01", "2026-06-03", "2026-06-04", "2026-06-05", "2026-06-08",
             "2026-06-09", "2026-06-10", "2026-06-11", "2026-06-12", "2026-06-15", "2026-06-16",
             "2026-06-17", "2026-06-22", "2026-06-23", "2026-06-24", "2026-06-25", "2026-06-26",
             "2026-06-30", "2026-07-01", "2026-07-02", "2026-07-06", "2026-07-07", "2026-07-08",
             "2026-07-09", "2026-07-10", "2026-07-13", "2026-07-14", "2026-07-15", "2026-07-16",
             "2026-07-17", "2026-07-20", "2026-07-21", "2026-07-22", "2026-07-23", "2026-07-24",
             "2026-07-27", "2026-07-28", "2026-07-29", "2026-07-30", "2026-07-31"]
rsi = [77.9, 79.7, 70.6, 71.6, 67.4, 59.1, 64.2, 63.9, 64.6, 62.7, 65.8, 51.1,
       52.7, 55.3, 53.6, 56.2, 53.0, 58.3, 52.4, 52.8, 47.8, 50.6, 48.0, 44.6,
       50.8, 53.5, 47.3, 55.5, 51.6, 54.2, 56.7, 56.9, 51.1, 55.3, 58.5, 62.5,
       57.9, 60.1, 59.5, 55.9, 53.2, 42.5, 40.3, 20.1, 20.9, 19.9, 20.3, 19.7,
       23.5, 23.1, 24.9, 22.7, 20.7, 22.2, 31.4, 31.4, 37.5, 36.1, 39.3, 34.5,
       38.3, 42.7, 43.3, 45.1, 48.9, 49.4, 51.2, 51.2, 57.3, 66.2, 62.1, 66.0,
       64.2, 64.6, 64.6, 64.0, 59.7, 51.9, 47.0, 62.1, 63.3, 66.7, 68.8, 54.9,
       53.2, 52.4, 48.4, 45.7, 52.0, 55.7, 50.0, 54.6, 54.2, 48.0, 44.6, 45.8,
       41.7, 30.2, 32.2, 26.9, 28.6, 23.9, 23.1, 17.6, 15.5, 14.0, 13.2, 12.4,
       12.1, 10.4, 10.4, 21.3, 20.9, 26.9, 32.2, 37.6, 42.6, 39.9, 39.1, 37.5,
       42.3, 38.4, 38.3, 36.1, 39.1, 38.4, 34.4, 34.4, 36.0, 32.2, 30.0, 30.2,
       29.2, 31.8, 34.2, 36.7, 36.4, 45.4, 46.2, 36.7, 31.0, 29.9, 35.8, 34.8,
       44.3, 48.0, 51.0, 52.4, 50.0, 51.9, 39.6, 43.8, 44.5, 46.0, 45.6, 48.4,
       56.6, 55.0, 46.6, 50.8, 48.8, 39.3, 37.9, 33.6, 33.8, 38.4, 44.7, 43.3,
       47.2, 46.5, 47.3, 46.9, 44.9, 47.0, 57.8, 64.4, 51.2, 52.8, 50.8, 50.2,
       49.4, 51.6, 48.9, 50.2, 50.2, 49.0, 41.3, 50.0, 49.4, 52.7, 53.0, 63.8,
       56.1, 59.5, 62.0, 64.6, 66.7, 58.3, 62.9, 63.2, 69.0, 69.0, 70.8, 73.9,
       73.1, 73.3, 56.5, 49.8, 46.4, 53.2, 63.3, 68.2, 69.3, 58.5, 69.6]

OVERBOUGHT, OVERSOLD, RSI_MID = 70, 30, 50
PCTB_UPPER, PCTB_MID, PCTB_LOWER = 1.0, 0.5, 0.0
# non-breaking spaces keep the doubled gaps that SVG would otherwise collapse
TITLE = ("SPSC\u00a0 \u2014\u00a0 Bollinger Bands(20, 2.0)\u00a0 +\u00a0 MACD(12,26,9)\u00a0 +"
         "\u00a0 RSI(14)\u00a0 \u2014\u00a0 2026-07-31")

# ---------------- build ----------------
FONT = "DejaVu Sans"
DAY_MS = 86400000
S = 4096 / 4378          # the page is photographed ~7% larger than its CSS size
dt = pd.to_datetime


def px(v):
    return round(v * S, 1)


x_start = datetime(2025, 7, 22) - timedelta(days=8.7)
x_end = datetime(2025, 7, 22) + timedelta(days=392.6)
x_range = Range1d(start=x_start, end=x_end)
ref_x = [x_start, x_end]
tick0 = datetime(2025, 7, 22)
major = [(tick0 + timedelta(days=14 * k)).timestamp() * 1000 for k in range(-1, 30)]
minor = [(tick0 + timedelta(days=3.5 * k)).timestamp() * 1000 for k in range(-4, 118)]
BLANK = CustomJSTickFormatter(code="return '';")


def make_fig(frame_h, y_range, top, bottom):
    p = figure(frame_width=round(4193 * S), frame_height=round(frame_h * S), x_range=x_range,
               y_range=y_range, x_axis_type="datetime", output_backend="svg",
               toolbar_location=None, min_border_left=145, min_border_right=10,
               min_border_top=round(top * S), min_border_bottom=round(bottom * S))
    p.outline_line_color = "black"
    p.outline_line_width = px(3)
    p.background_fill_color = "white"
    for ax in p.axis:
        ax.axis_line_color = "black"
        ax.axis_line_width = px(3)
        ax.major_tick_line_color = "black"
        ax.major_tick_line_width = px(2.5)
        ax.minor_tick_line_color = "black"
        ax.minor_tick_line_width = px(2)
        ax.major_tick_out = round(12 * S)
        ax.major_tick_in = 0
        ax.minor_tick_out = round(6 * S)
        ax.minor_tick_in = 0
        ax.major_label_text_font = FONT
        ax.major_label_text_font_size = f"{px(27)}px"
        ax.major_label_text_color = "black"
        ax.axis_label_text_font = FONT
        ax.axis_label_text_font_size = f"{px(33)}px"
        ax.axis_label_text_font_style = "normal"
        ax.axis_label_text_color = "black"
    p.xaxis.ticker = FixedTicker(ticks=major, minor_ticks=minor)
    p.xaxis.formatter = DatetimeTickFormatter(days="%b %d", months="%b %d", years="%b %d",
                                              hours="%b %d", minutes="%b %d")
    for g in (p.xgrid, p.ygrid):
        g.grid_line_color = "#c8c8c8"
        g.grid_line_width = px(2)
        g.minor_grid_line_color = "#e2e2e2"
        g.minor_grid_line_width = px(1.5)
        g.minor_grid_line_dash = "2 3"
    p.yaxis.axis_label_standoff = round(18 * S)
    return p


def hide_x_labels(p):
    p.xaxis.formatter = BLANK
    p.xaxis.major_label_text_font_size = "2px"
    p.xaxis.major_label_standoff = 0


def style_legend(lg):
    lg.location = "top_left"
    lg.label_text_font = FONT
    lg.label_text_font_size = f"{px(24.4)}px"
    lg.label_text_color = "black"
    lg.border_line_color = "#cccccc"
    lg.border_line_width = px(2)
    lg.background_fill_alpha = 0.85
    lg.glyph_width = round(50 * S)
    lg.glyph_height = round(26 * S)
    lg.label_height = round(26 * S)
    lg.spacing = round(8 * S)
    lg.padding = round(12 * S)
    lg.margin = round(12 * S)
    lg.label_standoff = round(16 * S)


# ---- price panel (title sits in the panel above its frame) ----
p1 = make_fig(1728, Range1d(39.3, 132.0), 0, 20)
p1.title.text = TITLE
p1.title.align = "left"
p1.title.offset = round((2186 - 163 - 1094) * S)
p1.title.standoff = 4
p1.title.text_font = FONT
p1.title.text_font_size = f"{px(48.8)}px"
p1.title.text_font_style = "bold"
p1.title.text_color = "black"
p1.yaxis.ticker = SingleIntervalTicker(interval=8, num_minor_ticks=4)
p1.yaxis.axis_label = "Price (USD)"
hide_x_labels(p1)

band_x = list(dt(upper_dates)) + list(dt(lower_dates))[::-1]
band_y = upper + lower[::-1]
r_band = p1.patch(band_x, band_y, fill_color="#95a5a6", fill_alpha=0.1, line_alpha=0)
r_up = p1.line(dt(upper_dates), upper, line_color="#e74c3c", line_width=px(3.5), line_dash="10 5")
r_mid = p1.line(dt(middle_dates), middle, line_color="#f39c12", line_width=px(3.5),
                line_dash="10 5")
r_lo = p1.line(dt(lower_dates), lower, line_color="#27ae60", line_width=px(3.5), line_dash="10 5")
r_close = p1.line(dt(close_dates), close, line_color="#1f77b4", line_width=px(5.5))
r_above = p1.scatter(dt(above_dates), above_vals, size=px(15), color="#e74c3c")
r_below = p1.scatter(dt(below_dates), below_vals, size=px(15), color="#27ae60")
lg1 = Legend(items=[LegendItem(label="Close Price", renderers=[r_close]),
                    LegendItem(label="Upper (+2.0\u03c3)", renderers=[r_up]),
                    LegendItem(label="Middle (SMA 20)", renderers=[r_mid]),
                    LegendItem(label="Lower (-2.0\u03c3)", renderers=[r_lo]),
                    LegendItem(label="Band Range", renderers=[r_band]),
                    LegendItem(label="Above Upper", renderers=[r_above]),
                    LegendItem(label="Below Lower", renderers=[r_below])])
style_legend(lg1)
p1.add_layout(lg1)

# ---- MACD panel ----
p2 = make_fig(1052, Range1d(-9.61, 3.45), 36, 20)
p2.yaxis.ticker = SingleIntervalTicker(interval=2, num_minor_ticks=0)
p2.yaxis.formatter = CustomJSTickFormatter(code="return tick == 0 ? '0' : '';")
p2.yaxis.axis_label = "MACD"
p2.ygrid.grid_line_color = "#e2e2e2"
p2.ygrid.grid_line_dash = "2 3"
p2.ygrid.grid_line_width = px(1.5)
hide_x_labels(p2)

hist_x, hist_top, hist_col = [], [], []
for wk, vals in zip(hist_weeks, hist_vals):
    monday = dt(wk)
    for i, v in enumerate(vals):
        if v is None:
            continue
        hist_x.append(monday + pd.Timedelta(days=i))
        hist_top.append(v)
        hist_col.append("#26a69a" if v >= 0 else "#ef5350")
r_hist = p2.vbar(x=hist_x, top=hist_top, bottom=0, width=0.85 * DAY_MS, fill_color=hist_col,
                 fill_alpha=0.7, line_alpha=0)
p2.line(ref_x, [0, 0], line_color="#888888", line_width=px(3), line_dash="10 5")
r_macd = p2.line(dt(macd_dates), macd, line_color="#1f77b4", line_width=px(5))
r_sig = p2.line(dt(signal_dates), signal, line_color="#ff7f0e", line_width=px(5))
lg2 = Legend(items=[LegendItem(label="MACD(12,26)", renderers=[r_macd]),
                    LegendItem(label="Signal(9)", renderers=[r_sig]),
                    LegendItem(label="Histogram", renderers=[r_hist], index=0)])
style_legend(lg2)
p2.add_layout(lg2)

# ---- %B panel ----
p3 = make_fig(584, Range1d(-0.552, 1.219), 37, 20)
p3.yaxis.ticker = SingleIntervalTicker(interval=0.5, num_minor_ticks=5)
p3.yaxis.formatter = CustomJSTickFormatter(code="return tick.toFixed(1).replace('-', '\u2212');")
p3.yaxis.axis_label = "%B"
hide_x_labels(p3)
pb = np.array(pctb)
pbx = dt(pctb_dates)
p3.varea(x=pbx, y1=np.minimum(pb, PCTB_LOWER), y2=PCTB_LOWER, fill_color="#27ae60", fill_alpha=0.2)
p3.varea(x=pbx, y1=PCTB_UPPER, y2=np.maximum(pb, PCTB_UPPER), fill_color="#e74c3c", fill_alpha=0.2)
ref3 = []
for level, col, al, lw, dash in ((PCTB_UPPER, "#e74c3c", 0.7, 4, "8 4"),
                                 (PCTB_MID, "#f39c12", 0.5, 2.5, "3 3"),
                                 (PCTB_LOWER, "#27ae60", 0.7, 4, "8 4")):
    ref3.append(p3.line(ref_x, [level, level], line_color=col, line_alpha=al, line_width=px(lw),
                        line_dash=dash))
r_pb = p3.line(pbx, pctb, line_color="#8e44ad", line_width=px(3.5))
lg3 = Legend(items=[LegendItem(label="%B", renderers=[r_pb]),
                    LegendItem(label="%B = 1 (Upper)", renderers=[ref3[0]]),
                    LegendItem(label="%B = 0.5 (Mid)", renderers=[ref3[1]]),
                    LegendItem(label="%B = 0 (Lower)", renderers=[ref3[2]])])
style_legend(lg3)
p3.add_layout(lg3)

# ---- RSI panel ----
p4 = make_fig(585, Range1d(0, 100), 36, 20)
p4.yaxis.ticker = SingleIntervalTicker(interval=10, num_minor_ticks=5)
p4.yaxis.axis_label = "RSI(14)"
p4.xaxis.major_label_orientation = math.pi / 4
p4.xaxis.major_label_standoff = round(8 * S)
rv = np.array(rsi)
rx = dt(rsi_dates)
p4.varea(x=rx, y1=OVERBOUGHT, y2=np.maximum(rv, OVERBOUGHT), fill_color="red", fill_alpha=0.2)
p4.varea(x=rx, y1=np.minimum(rv, OVERSOLD), y2=OVERSOLD, fill_color="green", fill_alpha=0.2)
p4.line(ref_x, [RSI_MID, RSI_MID], line_color="gray", line_alpha=0.6, line_width=px(2.5),
        line_dash="3 3")
ref4 = []
for level, col in ((OVERBOUGHT, "red"), (OVERSOLD, "green")):
    ref4.append(p4.line(ref_x, [level, level], line_color=col, line_alpha=0.8,
                        line_width=px(3.5), line_dash="10 5"))
r_rsi = p4.line(rx, rsi, line_color="#ff7f0e", line_width=px(4))
lg4 = Legend(items=[LegendItem(label="RSI(14)", renderers=[r_rsi]),
                    LegendItem(label="Overbought (70)", renderers=[ref4[0]]),
                    LegendItem(label="Oversold (30)", renderers=[ref4[1]])])
style_legend(lg4)
p4.add_layout(lg4)

layout = column(p1, p2, p3, p4)
open("out.html", "w").write(file_html(layout, INLINE))
